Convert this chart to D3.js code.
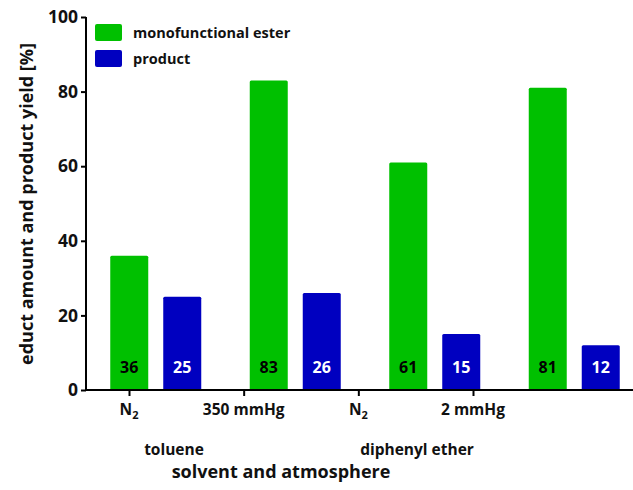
<!DOCTYPE html>
<html><head><meta charset="utf-8">
<script src="https://cdn.jsdelivr.net/npm/d3@7"></script>
<style>body{margin:0;background:#fff;} svg{display:block;font-family:"Open Sans",sans-serif;}</style>
</head><body><svg id="c" width="633" height="490"></svg>
<script>
const categories = ["toluene N2", "toluene 350 mmHg", "diphenyl ether N2", "diphenyl ether 2 mmHg"];
const tickLabels = ["N₂", "350 mmHg", "N₂", "2 mmHg"];
const solventLabels = ["toluene", "diphenyl ether"];
const series = ["monofunctional ester", "product"];
const esterValues = [36, 83, 61, 81];
const productValues = [25, 26, 15, 12];
const yTicks = [0, 20, 40, 60, 80, 100];
const colors = ["#00c000", "#0000c0"];
const labelColors = ["#000", "#fff"];

const svg = d3.select("#c");
const y = d3.scaleLinear().domain([0, 100]).range([390, 17]);
const x0 = d3.scaleBand().domain(categories).range([86, 644]).padding(0);
const x1 = d3.scaleBand().domain(series).range([-45.5, 45.5]).paddingInner(0.283).paddingOuter(0);
const xt = d3.scalePoint().domain(d3.range(tickLabels.length)).range([129, 473]);
const vals = [esterValues, productValues];
const W = 700;

// bars
series.forEach((s, si) => {
  const g = svg.append("g");
  g.selectAll("rect").data(vals[si]).enter().append("rect")
    .attr("x", (d, i) => x0(categories[i]) + x0.bandwidth() / 2 + x1(s))
    .attr("y", d => y(d))
    .attr("width", x1.bandwidth())
    .attr("height", d => y(0) - y(d))
    .attr("rx", 1.5)
    .attr("fill", colors[si]);
  g.selectAll("text").data(vals[si]).enter().append("text")
    .attr("x", (d, i) => x0(categories[i]) + x0.bandwidth() / 2 + x1(s) + x1.bandwidth() / 2)
    .attr("y", 373)
    .attr("text-anchor", "middle")
    .attr("font-size", 16).attr("font-weight", 700)
    .attr("fill", labelColors[si])
    .text(d => d);
});

// y axis
const yAxis = svg.append("g").attr("transform", "translate(86,0)")
  .call(d3.axisLeft(y).tickValues(yTicks).tickSize(5).tickPadding(3));
yAxis.select(".domain").attr("stroke", "#000").attr("stroke-width", 2).attr("d", "M0,17V391");
yAxis.selectAll(".tick line").attr("stroke-width", 2);
yAxis.selectAll(".tick text").attr("font-size", 17.5).attr("font-weight", W)
  .attr("font-family", "'Open Sans',sans-serif").attr("fill", "#111");

// x axis
const xAxis = svg.append("g").attr("transform", "translate(0,390)")
  .call(d3.axisBottom(xt).tickSize(6).tickFormat(() => ""));
xAxis.select(".domain").attr("stroke-width", 2).attr("d", "M85,0H633");
xAxis.selectAll(".tick line").attr("stroke-width", 2);
svg.append("g").selectAll("text").data(tickLabels).enter().append("text")
  .attr("x", (d, i) => xt(i)).attr("y", 415)
  .attr("text-anchor", "middle").attr("font-size", 15.5).attr("font-weight", W).attr("fill", "#111")
  .each(function (d) {
    const t = d3.select(this);
    if (d === "N₂") {
      t.append("tspan").text("N");
      t.append("tspan").attr("font-size", 11).attr("dy", 4).text("2");
    } else t.text(d);
  });

// solvent labels
const solventX = [174, 417];
svg.append("g").selectAll("text").data(solventLabels).enter().append("text")
  .attr("x", (d, i) => solventX[i]).attr("y", 455)
  .attr("text-anchor", "middle").attr("font-size", 15.5).attr("font-weight", W).attr("fill", "#111")
  .text(d => d);

svg.append("text").attr("x", 281).attr("y", 478).attr("text-anchor", "middle")
  .attr("font-size", 18).attr("font-weight", W).attr("fill", "#111").text("solvent and atmosphere");

svg.append("text").attr("transform", "translate(33,204) rotate(-90)").attr("text-anchor", "middle")
  .attr("font-size", 18).attr("font-weight", W).attr("fill", "#111").text("educt amount and product yield [%]");

// legend
const leg = svg.append("g");
series.forEach((s, i) => {
  leg.append("rect").attr("x", 95).attr("y", 24 + i * 26).attr("width", 27).attr("height", 17)
    .attr("rx", 2).attr("fill", colors[i]);
  leg.append("text").attr("x", 133).attr("y", 38 + i * 26).attr("font-size", 14.5).attr("font-weight", W)
    .attr("fill", "#111").text(s);
});
</script></body></html>
